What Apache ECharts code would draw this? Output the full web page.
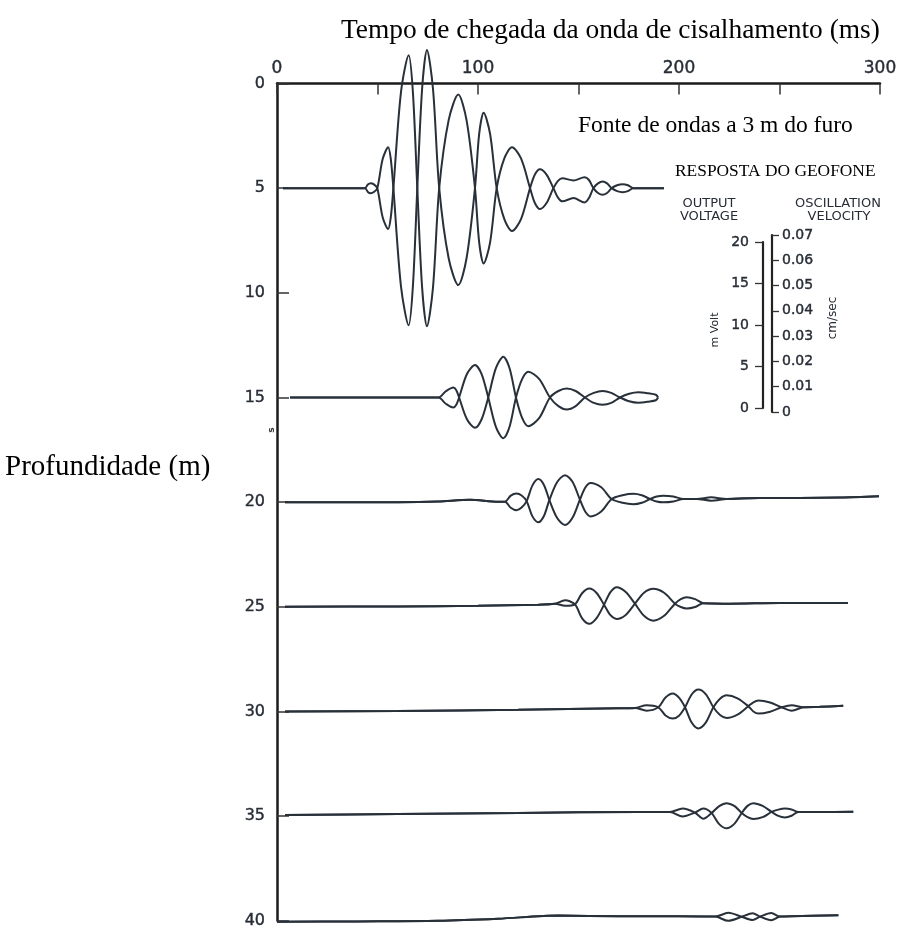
<!DOCTYPE html>
<html>
<head>
<meta charset="utf-8">
<script src="https://cdn.jsdelivr.net/npm/echarts@6/dist/echarts.min.js"></script>
<style>
  html, body { margin: 0; padding: 0; background: #fff; }
  #chart { width: 903px; height: 929px; }
</style>
</head>
<body>
<div id="chart"></div>
<script>
// Shear-wave arrival records down the borehole.
// Each record is a list of [time (ms), baseline shift (m), signed swing (m)].
// Two mirrored strokes are drawn per record: depth + shift - swing and depth + shift + swing,
// so each half-cycle shows as a closed lobe and the strokes cross at every zero.
const depths = [5, 15, 20, 25, 30, 35, 40];

const trace5 = [
  [3, 0, 0], [40, 0, 0], [43.8, 0, 0], [45.2, 0, 0.18], [46.6, 0, 0.24], [48.2, 0, 0.18], [49.9, 0, 0],
  [52.6, 0, -1.4], [55.3, 0, -1.95], [56.6, 0, -1.4], [57.9, 0, 0],
  [61.7, 0.05, 4.65], [65.5, 0.1, 6.45], [67.6, 0.05, 4.65], [69.8, 0, 0],
  [72.2, 0, -4.75], [74.6, 0, -6.6], [77.6, 0, -4.75], [80.7, 0, 0],
  [85.4, 0.05, 3.3], [90.2, 0.08, 4.55], [94.3, 0.05, 3.3], [98.5, 0, 0],
  [100.6, 0, -2.6], [102.8, 0, -3.6], [106, 0, -2.6], [109.3, 0, 0],
  [113.1, 0.03, 1.45], [116.9, 0.05, 2.0], [121.4, 0.03, 1.45], [125.9, 0, 0],
  [128.3, 0.03, -0.68], [130.8, 0.05, -0.95], [134.1, 0.03, -0.68], [137.5, 0, 0],
  [139.8, 0.05, 0.4], [142, 0.08, 0.55], [147.5, 0.05, 0.42], [153, 0.08, 0.6], [155.2, 0.04, 0.43], [157.4, 0, 0],
  [159.7, 0, -0.23], [162, 0, -0.32], [164.2, 0, -0.23], [166.5, 0, 0],
  [169.2, 0, 0.14], [172, 0, 0.19], [174.6, 0, 0.14], [177.3, 0, 0],
  [185, 0, 0], [192.5, 0, 0]
];
const trace15 = [
  [6.5, 0, 0], [60, 0, 0], [80.3, 0, 0], [84, 0, 0.3], [87.7, 0, 0.48], [89.2, 0, 0.35], [90.6, 0, 0],
  [94.5, -0.04, -1.08], [98.5, -0.05, -1.5], [101.8, -0.04, -1.08], [105.1, 0, 0],
  [108.9, 0, 1.4], [112.6, 0, 1.95], [115.7, 0, 1.4], [118.9, 0, 0],
  [122, 0.05, -0.94], [125, 0.07, -1.3], [130.4, 0.05, -0.94], [135.8, 0, 0],
  [140, 0.05, 0.36], [144.1, 0.07, 0.5], [148.6, 0.05, 0.36], [153.2, 0, 0],
  [157.6, 0.02, -0.24], [162, 0.02, -0.33], [166.3, 0.02, -0.24], [170.6, 0, 0],
  [175.2, 0, 0.18], [179.8, 0, 0.25], [184.7, 0, 0.2], [188.5, 0, 0.13], [189.6, 0, 0]
];
const trace20 = [
  [4, 0, 0], [60, 0, 0], [80, -0.03, 0], [96, -0.12, 0], [110, -0.02, 0],
  [113.4, -0.02, 0], [116.3, -0.02, 0.29], [119.2, -0.01, 0.4], [121.7, -0.03, 0.29], [124.2, -0.05, 0],
  [127.1, -0.06, -0.74], [130, -0.07, -1.03], [132.8, -0.08, -0.74], [135.5, -0.1, 0],
  [139.4, -0.1, 0.86], [143.3, -0.1, 1.19], [147, -0.11, 0.86], [150.7, -0.12, 0],
  [153.4, -0.12, -0.58], [156, -0.12, -0.8], [161.3, -0.13, -0.58], [166.5, -0.15, 0],
  [171.9, -0.15, 0.18], [177.3, -0.15, 0.25], [181.5, -0.15, 0.18], [185.6, -0.15, 0],
  [188.9, -0.15, -0.12], [192.2, -0.15, -0.16], [197.2, -0.15, -0.12], [202.2, -0.15, 0],
  [208.8, -0.15, 0], [216, -0.15, 0.08], [223.7, -0.15, 0],
  [240, -0.2, 0], [260, -0.2, 0], [280, -0.22, 0], [299.5, -0.28, 0]
];
const trace25 = [
  [4, 0, 0], [60, -0.02, 0], [100, -0.05, 0], [130, -0.1, 0], [138.3, -0.15, 0],
  [143.3, -0.18, 0.13], [148.2, -0.12, 0],
  [151.8, -0.05, -0.6], [155.4, -0.03, -0.84], [159, -0.06, -0.6], [162.7, -0.1, 0],
  [165.9, -0.15, 0.55], [169, -0.18, 0.76], [173.5, -0.16, 0.55], [178.1, -0.15, 0],
  [182.6, -0.12, -0.55], [187.2, -0.1, -0.76], [192.6, -0.12, -0.55], [198, -0.15, 0],
  [200.9, -0.18, 0.19], [203.8, -0.19, 0.27], [208, -0.18, 0.19], [212.1, -0.17, 0],
  [225, -0.15, 0], [250, -0.18, 0], [284, -0.18, 0]
];
const trace30 = [
  [4, 0, 0], [60, -0.02, 0], [120, -0.08, 0], [170, -0.15, 0], [178.1, -0.17, 0],
  [183.9, -0.17, 0.13], [189.7, -0.2, 0],
  [193.3, -0.24, -0.43], [196.9, -0.26, -0.6], [200, -0.23, -0.43], [203, -0.2, 0],
  [206.3, -0.14, 0.67], [209.6, -0.12, 0.93], [213.4, -0.15, 0.67], [217.1, -0.2, 0],
  [220.4, -0.22, -0.39], [223.7, -0.23, -0.54], [229.1, -0.24, -0.39], [234.5, -0.25, 0],
  [237, -0.22, 0.22], [239.5, -0.21, 0.31], [245.3, -0.21, 0.22], [251.1, -0.2, 0],
  [256.1, -0.17, -0.13], [261.9, -0.2, 0],
  [270, -0.22, 0], [281.7, -0.27, 0]
];
const trace35 = [
  [4, -0.05, 0], [60, -0.1, 0], [120, -0.15, 0], [180, -0.2, 0], [195.5, -0.2, 0],
  [201.8, -0.17, 0.19], [207.9, -0.17, 0], [212.1, -0.12, -0.24], [216.2, -0.15, 0],
  [220, -0.05, 0.43], [223.7, -0.02, 0.6], [227.5, -0.06, 0.43], [231.2, -0.15, 0],
  [234.1, -0.22, -0.27], [237, -0.24, -0.38], [241.6, -0.22, -0.27], [246.1, -0.2, 0],
  [249.4, -0.16, 0.15], [252.7, -0.15, 0.21], [256, -0.17, 0.15], [259.4, -0.2, 0],
  [270, -0.2, 0], [286.7, -0.21, 0]
];
const trace40 = [
  [0, 0.05, 0], [40, 0.03, 0], [80, 0, 0], [110, -0.1, 0], [140, -0.25, 0],
  [170, -0.22, 0], [200, -0.22, 0], [218, -0.2, 0], [224.5, -0.19, 0.19],
  [231.2, -0.19, 0], [236.6, -0.2, -0.16], [240.3, -0.2, 0], [245.9, -0.2, 0.17],
  [250.3, -0.2, 0], [256, -0.22, 0], [279.3, -0.26, 0]
];
const traces = [trace5, trace15, trace20, trace25, trace30, trace35, trace40];

// Axis tick labels
const timeTicks = [0, 100, 200, 300];
const depthTicks = [0, 5, 10, 15, 20, 25, 30, 35, 40];
// Geophone response scales
const voltageTicks = ['0', '5', '10', '15', '20'];
const velocityTicks = ['0', '0.01', '0.02', '0.03', '0.04', '0.05', '0.06', '0.07'];

const ink = '#28303a';
const letterInk = '#272d36';
const serif = '"Liberation Serif", "Times New Roman", serif';
const sans = '"DejaVu Sans", Verdana, sans-serif';

const series = [];
traces.forEach((pts, i) => {
  const d = depths[i];
  [-1, 1].forEach(sign => {
    series.push({
      type: 'line',
      xAxisIndex: 0,
      yAxisIndex: 0,
      data: pts.map(p => [p[0], d + p[1] + sign * p[2]]),
      smooth: 0.3,
      showSymbol: false,
      symbol: 'none',
      clip: false,
      silent: true,
      lineStyle: { color: ink, width: 2 }
    });
  });
});

const chart = echarts.init(document.getElementById('chart'), null, { renderer: 'canvas' });

const textEl = (text, x, y, font, opts = {}) => ({
  type: 'text',
  x: x,
  y: y,
  rotation: opts.rotation || 0,
  silent: true,
  style: {
    text: text,
    font: font,
    fill: opts.fill || '#000',
    textAlign: opts.align || 'left',
    align: opts.align || 'left',
    textVerticalAlign: 'middle',
    verticalAlign: 'middle'
  }
});

const letterLabel = (size, extra) => Object.assign({
  color: letterInk,
  fontFamily: sans,
  fontSize: size,
  textBorderColor: letterInk,
  textBorderWidth: 0.4
}, extra);

chart.setOption({
  animation: false,
  backgroundColor: '#fff',
  grid: [
    { left: 277, top: 83.5, width: 603, height: 838.5 },
    { left: 763, top: 242, width: 1, height: 166 },
    { left: 772, top: 235, width: 1, height: 177 }
  ],
  xAxis: [
    {
      gridIndex: 0,
      type: 'value',
      position: 'top',
      min: 0,
      max: 300,
      interval: 50,
      axisLine: { show: true, lineStyle: { color: '#1b1b1b', width: 2.5 } },
      axisTick: { show: true, inside: true, length: 11, lineStyle: { color: '#333', width: 1.5 } },
      axisLabel: letterLabel(17, {
        margin: 6,
        formatter: v => (timeTicks.indexOf(v) >= 0 ? String(v) : '')
      }),
      splitLine: { show: false }
    },
    { gridIndex: 1, type: 'value', min: 0, max: 1, show: false },
    { gridIndex: 2, type: 'value', min: 0, max: 1, show: false }
  ],
  yAxis: [
    {
      gridIndex: 0,
      type: 'value',
      inverse: true,
      min: 0,
      max: 40,
      interval: 5,
      axisLine: { show: true, lineStyle: { color: '#1b1b1b', width: 2.5 } },
      axisTick: { show: true, inside: true, length: 12, lineStyle: { color: '#333', width: 1.5 } },
      axisLabel: letterLabel(16, {
        margin: 12,
        formatter: v => (depthTicks.indexOf(v) >= 0 ? String(v) : '')
      }),
      splitLine: { show: false }
    },
    {
      gridIndex: 1,
      type: 'value',
      position: 'left',
      min: 0,
      max: 20,
      interval: 5,
      axisLine: { show: true, lineStyle: { color: '#222', width: 2.2 } },
      axisTick: { show: true, inside: false, length: 8, lineStyle: { color: '#333', width: 1.3 } },
      axisLabel: letterLabel(14, {
        margin: 14,
        formatter: v => voltageTicks[Math.round(v / 5)] || ''
      }),
      splitLine: { show: false }
    },
    {
      gridIndex: 2,
      type: 'value',
      position: 'left',
      min: 0,
      max: 7,
      interval: 1,
      axisLine: { show: true, lineStyle: { color: '#222', width: 2.2 } },
      axisTick: { show: true, inside: true, length: 7, lineStyle: { color: '#333', width: 1.3 } },
      axisLabel: letterLabel(14, {
        inside: true,
        margin: 10,
        formatter: v => velocityTicks[Math.round(v)] || ''
      }),
      splitLine: { show: false }
    }
  ],
  series: series,
  graphic: [
    textEl('Tempo de chegada da onda de cisalhamento (ms)', 341, 31, '27.4px ' + serif),
    textEl('Fonte de ondas a 3 m do furo', 578, 126, '23.5px ' + serif),
    textEl('RESPOSTA DO GEOFONE', 675, 171, '17.4px ' + serif),
    textEl('Profundidade (m)', 5, 467, '29px ' + serif),
    textEl('OUTPUT', 709, 204, '13px ' + sans, { align: 'center', fill: letterInk }),
    textEl('VOLTAGE', 709, 217, '13px ' + sans, { align: 'center', fill: letterInk }),
    textEl('OSCILLATION', 838, 204, '13px ' + sans, { align: 'center', fill: letterInk }),
    textEl('VELOCITY', 839, 217, '13px ' + sans, { align: 'center', fill: letterInk }),
    textEl('m Volt', 715, 330, '11px ' + sans, { align: 'center', fill: letterInk, rotation: Math.PI / 2 }),
    textEl('cm/sec', 833, 318, '12px ' + sans, { align: 'center', fill: letterInk, rotation: Math.PI / 2 }),
    textEl('s', 272, 430, 'bold 9px ' + sans, { align: 'center', fill: '#333', rotation: Math.PI / 2 })
  ]
});
</script>
</body>
</html>
